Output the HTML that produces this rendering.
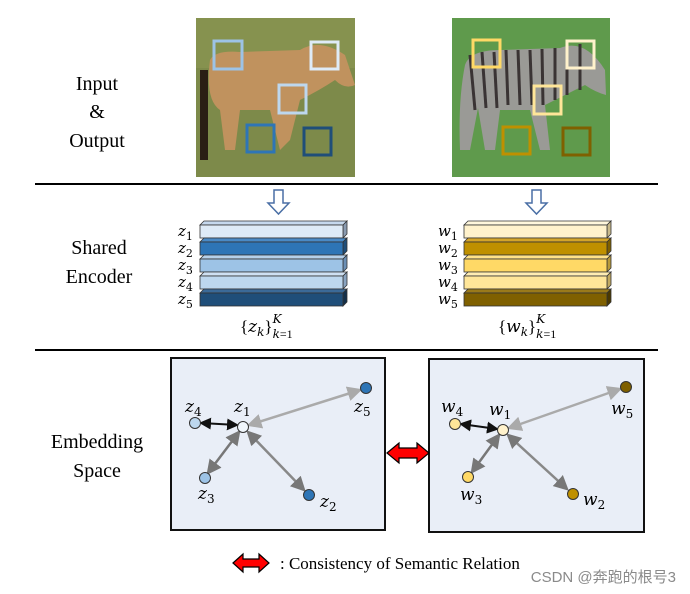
<!DOCTYPE html>
<html><head><meta charset="utf-8"><style>
body{margin:0;background:#fff;width:690px;height:594px;overflow:hidden}
svg{display:block}
text{font-family:"Liberation Serif",serif}
.m{font-family:"DejaVu Serif","Liberation Serif",serif;font-style:italic}
</style></head><body>
<svg width="690" height="594" viewBox="0 0 690 594" xmlns="http://www.w3.org/2000/svg">
<defs>
<marker id="ag" markerWidth="6" markerHeight="6" refX="5" refY="3" orient="auto-start-reverse"><path d="M0,0 L6,3 L0,6 z" fill="#aaa"/></marker>
<marker id="ad" markerWidth="6" markerHeight="6" refX="5" refY="3" orient="auto-start-reverse"><path d="M0,0 L6,3 L0,6 z" fill="#777"/></marker>
<marker id="ab" markerWidth="6" markerHeight="6" refX="5" refY="3" orient="auto-start-reverse"><path d="M0,0 L6,3 L0,6 z" fill="#111"/></marker>
</defs>
<text x="97" y="90" font-size="20" text-anchor="middle">Input</text>
<text x="97" y="118" font-size="20" text-anchor="middle">&amp;</text>
<text x="97" y="147" font-size="20" text-anchor="middle">Output</text>
<text x="99" y="254" font-size="20" text-anchor="middle">Shared</text>
<text x="99" y="283" font-size="20" text-anchor="middle">Encoder</text>
<text x="97" y="448" font-size="20" text-anchor="middle">Embedding</text>
<text x="97" y="477" font-size="20" text-anchor="middle">Space</text>
<line x1="35" y1="184" x2="658" y2="184" stroke="#000" stroke-width="2"/>
<line x1="35" y1="350" x2="658" y2="350" stroke="#000" stroke-width="2"/>
<rect x="196" y="18" width="159" height="159" fill="#7d8a4a"/>
<rect x="196" y="18" width="159" height="50" fill="#86924f"/>
<path d="M210,60 Q215,50 240,52 L300,50 Q320,38 345,55 L355,85 Q345,90 335,80 Q320,90 300,100 L290,140 L280,150 L270,110 L240,110 L235,150 L225,150 L220,110 Q205,100 210,60z" fill="#c0925e"/>
<rect x="200" y="70" width="8" height="90" fill="#2a1e14"/>
<rect x="452" y="18" width="158" height="159" fill="#5f9a4c"/>
<path d="M465,65 Q470,50 500,50 L560,48 Q585,38 605,70 L606,95 Q595,92 585,85 L545,105 L550,150 L540,150 L530,110 L500,110 L495,150 L485,150 L478,108 L470,150 L460,150 Q458,100 465,65z" fill="#9a9a96"/>
<g stroke="#3a3434" stroke-width="3">
<line x1="470" y1="55" x2="475" y2="110"/><line x1="482" y1="52" x2="486" y2="108"/><line x1="494" y1="52" x2="497" y2="108"/><line x1="506" y1="50" x2="508" y2="105"/><line x1="518" y1="50" x2="520" y2="105"/><line x1="530" y1="50" x2="532" y2="105"/><line x1="542" y1="49" x2="543" y2="105"/><line x1="555" y1="48" x2="555" y2="100"/><line x1="567" y1="46" x2="567" y2="95"/><line x1="580" y1="44" x2="580" y2="90"/>
</g>
<g fill="none" stroke-width="3">
<rect x="214" y="41" width="28" height="28" stroke="#9dc3e6"/>
<rect x="311" y="42" width="27" height="27" stroke="#deebf7"/>
<rect x="279" y="85" width="27" height="28" stroke="#bdd7ee"/>
<rect x="247" y="125" width="27" height="27" stroke="#2e75b6"/>
<rect x="304" y="128" width="27" height="27" stroke="#1f4e79"/>
<rect x="473" y="40" width="27" height="27" stroke="#ffd966"/>
<rect x="567" y="41" width="27" height="27" stroke="#fff2cc"/>
<rect x="534" y="86" width="27" height="28" stroke="#ffe699"/>
<rect x="503" y="127" width="27" height="27" stroke="#bf9000"/>
<rect x="563" y="128" width="27" height="27" stroke="#7f6000"/>
</g>
<path d="M274,190 h9 v13 h6 l-10.5,11 l-10.5,-11 h6 z" fill="#fff" stroke="#4a6fa5" stroke-width="1.5"/>
<path d="M532,190 h9 v13 h6 l-10.5,11 l-10.5,-11 h6 z" fill="#fff" stroke="#4a6fa5" stroke-width="1.5"/>
<g stroke="#333" stroke-width="0.8">
<polygon points="200,225 204,221 347,221 343,225" fill="#c6d9ee"/><polygon points="343,225 347,221 347,234 343,238" fill="#8a9bb0"/><rect x="200" y="225" width="143" height="13" fill="#deebf7"/>
<polygon points="200,242 204,238 347,238 343,242" fill="#4a8ac6"/><polygon points="343,242 347,238 347,251 343,255" fill="#1f4e79"/><rect x="200" y="242" width="143" height="13" fill="#2e75b6"/>
<polygon points="200,259 204,255 347,255 343,259" fill="#b5d0ea"/><polygon points="343,259 347,255 347,268 343,272" fill="#6b8fb5"/><rect x="200" y="259" width="143" height="13" fill="#9dc3e6"/>
<polygon points="200,276 204,272 347,272 343,276" fill="#cfe0f2"/><polygon points="343,276 347,272 347,285 343,289" fill="#8aa4c0"/><rect x="200" y="276" width="143" height="13" fill="#bdd7ee"/>
<polygon points="200,293 204,289 347,289 343,293" fill="#3b6a98"/><polygon points="343,293 347,289 347,302 343,306" fill="#122f4a"/><rect x="200" y="293" width="143" height="13" fill="#1f4e79"/>
<polygon points="464,225 468,221 611,221 607,225" fill="#fff7dc"/><polygon points="607,225 611,221 611,234 607,238" fill="#c8b98a"/><rect x="464" y="225" width="143" height="13" fill="#fff2cc"/>
<polygon points="464,242 468,238 611,238 607,242" fill="#d4a52a"/><polygon points="607,242 611,238 611,251 607,255" fill="#7f6000"/><rect x="464" y="242" width="143" height="13" fill="#bf9000"/>
<polygon points="464,259 468,255 611,255 607,259" fill="#ffe38a"/><polygon points="607,259 611,255 611,268 607,272" fill="#b89a3a"/><rect x="464" y="259" width="143" height="13" fill="#ffd966"/>
<polygon points="464,276 468,272 611,272 607,276" fill="#ffedb3"/><polygon points="607,276 611,272 611,285 607,289" fill="#c0a860"/><rect x="464" y="276" width="143" height="13" fill="#ffe699"/>
<polygon points="464,293 468,289 611,289 607,293" fill="#9a7a1a"/><polygon points="607,293 611,289 611,302 607,306" fill="#4a3800"/><rect x="464" y="293" width="143" height="13" fill="#7f6000"/>
</g>
<g font-size="15">
<text x="178" y="236" class="m">z<tspan font-size="11" dy="4" font-style="normal">1</tspan></text>
<text x="178" y="253" class="m">z<tspan font-size="11" dy="4" font-style="normal">2</tspan></text>
<text x="178" y="270" class="m">z<tspan font-size="11" dy="4" font-style="normal">3</tspan></text>
<text x="178" y="287" class="m">z<tspan font-size="11" dy="4" font-style="normal">4</tspan></text>
<text x="178" y="304" class="m">z<tspan font-size="11" dy="4" font-style="normal">5</tspan></text>
<text x="438" y="236" class="m">w<tspan font-size="11" dy="4" font-style="normal">1</tspan></text>
<text x="438" y="253" class="m">w<tspan font-size="11" dy="4" font-style="normal">2</tspan></text>
<text x="438" y="270" class="m">w<tspan font-size="11" dy="4" font-style="normal">3</tspan></text>
<text x="438" y="287" class="m">w<tspan font-size="11" dy="4" font-style="normal">4</tspan></text>
<text x="438" y="304" class="m">w<tspan font-size="11" dy="4" font-style="normal">5</tspan></text>
</g>
<text x="240" y="332" font-size="17">{<tspan class="m">z</tspan><tspan font-size="12" dy="4" class="m">k</tspan><tspan dy="-4">}</tspan><tspan font-size="12" dy="-9" class="m">K</tspan><tspan font-size="12" dx="-9" dy="15" class="m">k</tspan><tspan font-size="12">=1</tspan></text>
<text x="498" y="332" font-size="17">{<tspan class="m">w</tspan><tspan font-size="12" dy="4" class="m">k</tspan><tspan dy="-4">}</tspan><tspan font-size="12" dy="-9" class="m">K</tspan><tspan font-size="12" dx="-9" dy="15" class="m">k</tspan><tspan font-size="12">=1</tspan></text>
<rect x="171" y="358" width="214" height="172" fill="#e9eef7" stroke="#111" stroke-width="2"/>
<rect x="429" y="359" width="215" height="173" fill="#e9eef7" stroke="#111" stroke-width="2"/>
<line x1="249" y1="425" x2="360" y2="390" stroke="#aaa" stroke-width="2.5" marker-start="url(#ag)" marker-end="url(#ag)"/>
<line x1="237" y1="425" x2="201" y2="423" stroke="#111" stroke-width="2" marker-start="url(#ab)" marker-end="url(#ab)"/>
<line x1="239" y1="432" x2="208" y2="473" stroke="#777" stroke-width="2.5" marker-start="url(#ad)" marker-end="url(#ad)"/>
<line x1="248" y1="432" x2="304" y2="490" stroke="#888" stroke-width="2.5" marker-start="url(#ad)" marker-end="url(#ad)"/>
<g stroke="#333" stroke-width="1">
<circle cx="243" cy="427" r="5.5" fill="#f0f6fc"/>
<circle cx="195" cy="423" r="5.5" fill="#bdd7ee"/>
<circle cx="205" cy="478" r="5.5" fill="#9dc3e6"/>
<circle cx="309" cy="495" r="5.5" fill="#2e75b6"/>
<circle cx="366" cy="388" r="5.5" fill="#2e75b6"/>
</g>
<line x1="509" y1="428" x2="620" y2="389" stroke="#aaa" stroke-width="2.5" marker-start="url(#ag)" marker-end="url(#ag)"/>
<line x1="497" y1="429" x2="461" y2="424" stroke="#111" stroke-width="2" marker-start="url(#ab)" marker-end="url(#ab)"/>
<line x1="499" y1="435" x2="472" y2="472" stroke="#777" stroke-width="2.5" marker-start="url(#ad)" marker-end="url(#ad)"/>
<line x1="508" y1="435" x2="567" y2="489" stroke="#888" stroke-width="2.5" marker-start="url(#ad)" marker-end="url(#ad)"/>
<g stroke="#333" stroke-width="1">
<circle cx="503" cy="430" r="5.5" fill="#fff2cc"/>
<circle cx="455" cy="424" r="5.5" fill="#ffe699"/>
<circle cx="468" cy="477" r="5.5" fill="#ffd966"/>
<circle cx="573" cy="494" r="5.5" fill="#bf9000"/>
<circle cx="626" cy="387" r="5.5" fill="#7f6000"/>
</g>
<g font-size="17">
<text x="185" y="412" class="m">z<tspan font-size="12" dy="4" font-style="normal">4</tspan></text>
<text x="234" y="412" class="m">z<tspan font-size="12" dy="4" font-style="normal">1</tspan></text>
<text x="354" y="412" class="m">z<tspan font-size="12" dy="4" font-style="normal">5</tspan></text>
<text x="198" y="499" class="m">z<tspan font-size="12" dy="4" font-style="normal">3</tspan></text>
<text x="320" y="507" class="m">z<tspan font-size="12" dy="4" font-style="normal">2</tspan></text>
<text x="441" y="412" class="m">w<tspan font-size="12" dy="4" font-style="normal">4</tspan></text>
<text x="489" y="415" class="m">w<tspan font-size="12" dy="4" font-style="normal">1</tspan></text>
<text x="611" y="414" class="m">w<tspan font-size="12" dy="4" font-style="normal">5</tspan></text>
<text x="460" y="500" class="m">w<tspan font-size="12" dy="4" font-style="normal">3</tspan></text>
<text x="583" y="505" class="m">w<tspan font-size="12" dy="4" font-style="normal">2</tspan></text>
</g>
<path d="M387,453 l12,-10 v5 h18 v-5 l12,10 l-12,10 v-5 h-18 v5 z" fill="#f00" stroke="#000" stroke-width="1.2"/>
<path d="M233,563 l10,-9 v5 h16 v-5 l10,9 l-10,9 v-5 h-16 v5 z" fill="#f00" stroke="#000" stroke-width="1.2"/>
<text x="280" y="569" font-size="17">: Consistency of Semantic Relation</text>
<text x="676" y="582" font-size="15" text-anchor="end" fill="#8a8a8a" style="font-family:'Liberation Sans','Noto Sans CJK SC',sans-serif">CSDN @奔跑的根号3</text>
</svg>
</body></html>
